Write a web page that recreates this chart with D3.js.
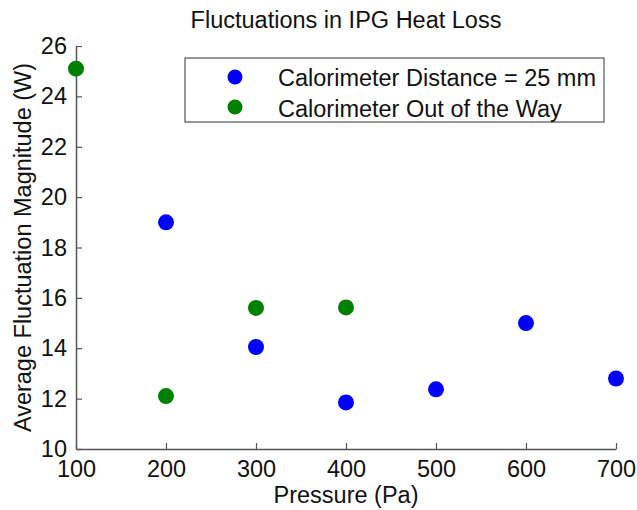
<!DOCTYPE html>
<html>
<head>
<meta charset="utf-8">
<script src="https://cdn.jsdelivr.net/npm/d3@7"></script>
<style>
  body { margin: 0; background: #fff; }
  svg { font-family: "Liberation Sans", Arial, sans-serif; }
</style>
</head>
<body>
<svg id="chart" width="637" height="510"></svg>
<script>
const seriesNames = ["Calorimeter Distance = 25 mm", "Calorimeter Out of the Way"];
const seriesColors = ["#0000ff", "#008000"];
const blueX = [200, 300, 400, 500, 600, 700];
const blueY = [19.0, 14.05, 11.85, 12.37, 15.0, 12.8];
const greenX = [100, 200, 300, 400];
const greenY = [25.1, 12.1, 15.6, 15.62];
const xTicks = [100, 200, 300, 400, 500, 600, 700];
const yTicks = [10, 12, 14, 16, 18, 20, 22, 24, 26];

const svg = d3.select("#chart");
const margin = { top: 46, right: 21, bottom: 61, left: 76 };
const width = +svg.attr("width") - margin.left - margin.right;
const height = +svg.attr("height") - margin.top - margin.bottom;
const g = svg.append("g").attr("transform", `translate(${margin.left},${margin.top})`);
const fontSize = 23.5;

const x = d3.scaleLinear().domain([100, 700]).range([0, width]);
const y = d3.scaleLinear().domain([10, 26]).range([height, 0]);

// Axes (ticks point inward, like MATLAB)
const xAxis = g.append("g")
  .attr("transform", `translate(0,${height})`)
  .call(d3.axisBottom(x).tickValues(xTicks).tickSize(-6).tickPadding(11).tickSizeOuter(0));
const yAxis = g.append("g")
  .call(d3.axisLeft(y).tickValues(yTicks).tickSize(-6).tickPadding(9).tickSizeOuter(0));

[xAxis, yAxis].forEach(a => {
  a.select(".domain").attr("stroke", "#555").attr("stroke-width", 1.5);
  a.selectAll(".tick line").attr("stroke", "#555").attr("stroke-width", 1.2);
  a.selectAll(".tick text").attr("font-size", fontSize).attr("fill", "#111")
    .attr("font-family", "Liberation Sans, Arial, sans-serif");
});
xAxis.selectAll(".tick text").attr("dy", "0.72em");

// Points
const series = [
  blueX.map((v, i) => ({ x: v, y: blueY[i], s: 0 })),
  greenX.map((v, i) => ({ x: v, y: greenY[i], s: 1 }))
];
g.selectAll(".pt")
  .data(series.flat())
  .join("circle")
  .attr("class", "pt")
  .attr("cx", d => x(d.x))
  .attr("cy", d => y(d.y))
  .attr("r", 8)
  .attr("fill", d => seriesColors[d.s]);

// Title and labels
svg.append("text")
  .attr("x", margin.left + width / 2)
  .attr("y", 28)
  .attr("text-anchor", "middle")
  .attr("font-size", fontSize)
  .attr("fill", "#111")
  .text("Fluctuations in IPG Heat Loss");

svg.append("text")
  .attr("x", margin.left + width / 2)
  .attr("y", 503)
  .attr("text-anchor", "middle")
  .attr("font-size", fontSize)
  .attr("fill", "#111")
  .text("Pressure (Pa)");

svg.append("text")
  .attr("transform", `translate(31,${margin.top + height / 2}) rotate(-90)`)
  .attr("text-anchor", "middle")
  .attr("font-size", fontSize)
  .attr("fill", "#111")
  .text("Average Fluctuation Magnitude (W)");

// Legend
const legend = svg.append("g").attr("transform", "translate(185,58)");
legend.append("rect")
  .attr("width", 419).attr("height", 64)
  .attr("fill", "#fff").attr("stroke", "#333").attr("stroke-width", 1);
seriesNames.forEach((name, i) => {
  legend.append("circle")
    .attr("cx", 50).attr("cy", 19 + i * 30)
    .attr("r", 7.5).attr("fill", seriesColors[i]);
  legend.append("text")
    .attr("x", 93).attr("y", 28 + i * 30.5)
    .attr("font-size", fontSize)
    .attr("fill", "#111")
    .text(name);
});
</script>
</body>
</html>
